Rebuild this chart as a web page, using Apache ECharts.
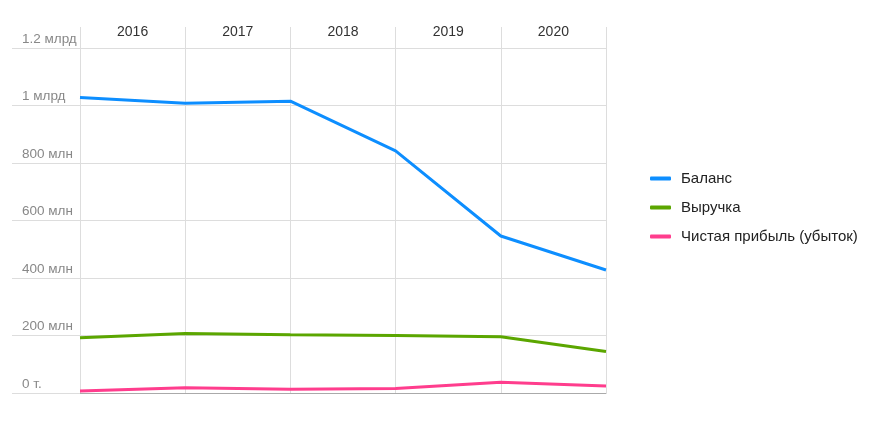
<!DOCTYPE html>
<html>
<head>
<meta charset="utf-8">
<script src="https://cdn.jsdelivr.net/npm/echarts@6/dist/echarts.min.js"></script>
<style>html,body{margin:0;padding:0;background:#fff}#c{width:881px;height:431px}</style>
</head>
<body>
<div id="c"></div>
<script>
var yearLabels = ['2016', '2017', '2018', '2019', '2020'];
var pointKeys = ['p0', 'p1', 'p2', 'p3', 'p4', 'p5'];
var seriesNames = ['Баланс', 'Выручка', 'Чистая прибыль (убыток)'];
var balance = [1028e6, 1008e6, 1015e6, 842e6, 546e6, 428e6];
var revenue = [192e6, 207e6, 203e6, 200e6, 196e6, 144e6];
var netProfit = [7e6, 18e6, 13e6, 16e6, 37e6, 24e6];
var yTickLabels = {0: '0 т.', 200: '200 млн', 400: '400 млн', 600: '600 млн', 800: '800 млн', 1000: '1 млрд', 1200: '1.2 млрд'};
var colors = ['#0d8eff', '#5ba600', '#ff3d8d'];

var chart = echarts.init(document.getElementById('c'), null, {renderer: 'canvas'});
var font = 'Helvetica, Arial, "Liberation Sans", sans-serif';
var seriesData = [balance, revenue, netProfit];
chart.setOption({
  animation: false,
  textStyle: {fontFamily: font},
  grid: {left: 80, right: 275, top: 48, bottom: 38},
  legend: {
    orient: 'vertical', left: 645, top: 166,
    itemWidth: 21, itemHeight: 4, itemGap: 14,
    icon: 'roundRect',
    textStyle: {fontSize: 15, color: '#222', fontFamily: font, padding: [0, 0, 0, 5]},
    data: seriesNames
  },
  xAxis: [{
    type: 'category', data: pointKeys, boundaryGap: false, position: 'bottom',
    axisLine: {show: true, lineStyle: {color: '#aaa', width: 1}},
    axisTick: {show: false}, axisLabel: {show: false},
    splitLine: {show: true, lineStyle: {color: '#ddd', width: 1}}
  }, {
    type: 'category', data: yearLabels, boundaryGap: true, position: 'top',
    axisLine: {show: false},
    axisTick: {show: true, length: 21, lineStyle: {color: '#ddd'}},
    axisLabel: {fontSize: 14, color: '#333', margin: 9, fontFamily: font},
    splitLine: {show: false}
  }],
  yAxis: {
    type: 'value', min: 0, max: 1200e6, interval: 200e6,
    axisLine: {show: false},
    axisTick: {show: true, length: 68, lineStyle: {color: '#ddd'}},
    axisLabel: {
      align: 'left', margin: 58, verticalAlign: 'bottom', padding: [0, 0, 2, 0],
      fontSize: 13.5, color: '#888', fontFamily: font,
      formatter: function (v) { return yTickLabels[Math.round(v / 1e6)]; }
    },
    splitLine: {show: true, lineStyle: {color: '#ddd', width: 1}}
  },
  series: seriesNames.map(function (n, i) {
    return {
      name: n, type: 'line', data: seriesData[i], xAxisIndex: 0,
      showSymbol: false, symbol: 'none',
      lineStyle: {width: 3, color: colors[i]},
      itemStyle: {color: colors[i]}
    };
  })
});
</script>
</body>
</html>
